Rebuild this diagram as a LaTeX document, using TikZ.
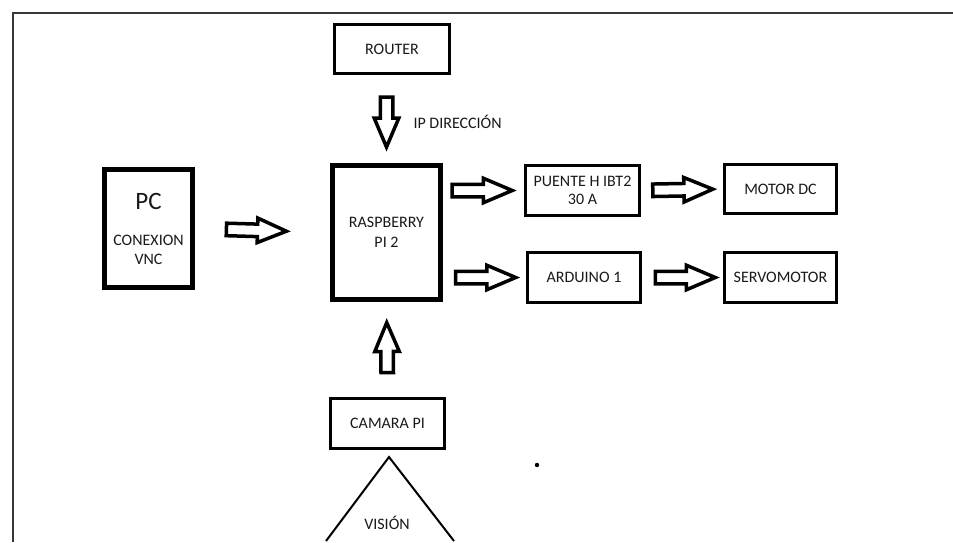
\documentclass[tikz,border=0pt]{standalone}
\usepackage{fontspec}
\setmainfont{Carlito}
\definecolor{framegray}{RGB}{55, 55, 55}
\definecolor{textgray}{RGB}{25, 25, 25}
\usetikzlibrary{shapes.arrows, positioning}

\begin{document}
\begin{tikzpicture}[x=1pt, y=-1pt,
    box/.style={draw, line width=3pt, minimum width=113pt, minimum height=50pt, inner sep=2pt, align=center, text=textgray, font=\fontsize{16}{19}\selectfont},
    fatarrow/.style={single arrow, draw, line width=3.5pt, fill=white, minimum height=60pt, minimum width=21pt, single arrow head extend=6pt, single arrow tip angle=46, inner sep=4.5pt, anchor=tip, sloped, allow upside down}]
  \useasboundingbox (0,0) rectangle (953,542);

  % Frame
  \draw[line width=2pt, framegray] (13,542) -- (13,13) -- (953,13);

  % Boxes
  \node[box, minimum width=115pt, minimum height=49pt] (router) at (392,49) {ROUTER};
  \node[box, line width=5pt, minimum width=88pt, minimum height=118pt, font=\fontsize{16}{19}\selectfont] (pc) at (148.5,228.5) {{\fontsize{25}{28}\selectfont PC}\\[17pt]CONEXION\\VNC};
  \node[box, line width=5pt, minimum width=108pt, minimum height=134pt, font=\fontsize{16}{20}\selectfont] (rpi) at (386.5,232.5) {RASPBERRY\\PI 2};
  \node[box, minimum width=114pt, font=\fontsize{16}{18}\selectfont] (puente) at (582.5,190.5) {PUENTE H IBT2\\30 A};
  \node[box, minimum width=112pt, minimum height=49pt] (motor) at (780.5,189) {MOTOR DC};
  \node[box] (arduino) at (584,277.5) {ARDUINO 1};
  \node[box, minimum width=112pt] (servo) at (780.5,277.5) {SERVOMOTOR};
  \node[box, minimum width=114pt] (camara) at (387.5,423.5) {CAMARA PI};

  % Arrows
  \path (router.south -| rpi) -- node[fatarrow, minimum height=50pt, pos=0.87] (iparrow) {} (rpi.north);
  \node[anchor=west, text=textgray, font=\fontsize{16}{19}\selectfont] (iplabel) at (410,122) {IP DIRECCIÓN};
  \path (pc.east) -- node[fatarrow, pos=0.71] {} (rpi.west);
  \path (camara.north) -- node[fatarrow, minimum height=50pt, pos=0.83] {} (rpi.south);
  \path (rpi.east |- puente) -- node[fatarrow, pos=0.91] {} (puente.west);
  \path (rpi.east |- arduino) -- node[fatarrow, pos=0.93] {} (arduino.west);
  \path (puente.east) -- node[fatarrow, pos=0.93] {} (motor.west);
  \path (arduino.east) -- node[fatarrow, pos=0.96] {} (servo.west);

  % Vision cone
  \draw[line width=2pt] (326,541) -- (389,457) -- (454,541);
  \node[text=textgray, font=\fontsize{16}{19}\selectfont] (vision) at (387,523) {VISIÓN};
  \fill (537,465) circle (2.2pt);
\end{tikzpicture}
\end{document}
